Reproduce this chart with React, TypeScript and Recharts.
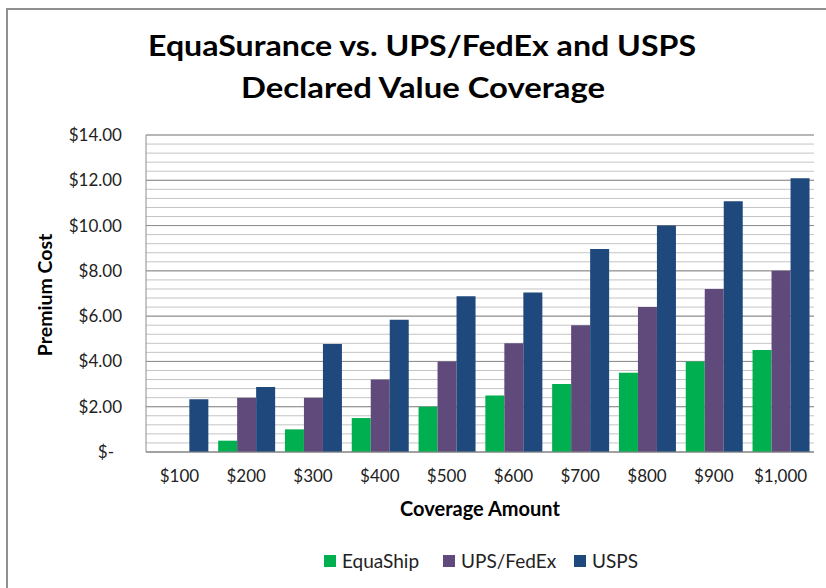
import React from "react";
import { BarChart, Bar, XAxis, YAxis, CartesianGrid } from "recharts";

const categories = ["$100", "$200", "$300", "$400", "$500", "$600", "$700", "$800", "$900", "$1,000"];
const equaShip = [0, 0.5, 1.0, 1.5, 2.0, 2.5, 3.0, 3.5, 4.0, 4.5];
const upsFedEx = [0, 2.4, 2.4, 3.2, 4.0, 4.8, 5.6, 6.4, 7.2, 8.0];
const usps = [2.33, 2.87, 4.77, 5.84, 6.88, 7.04, 8.97, 10.0, 11.07, 12.09];
const yTicks = [0, 2, 4, 6, 8, 10, 12, 14];
const minorStep = 0.4;
const minorTicks = Array.from({ length: 36 }, (_, i) => Math.round(i * minorStep * 10) / 10);

const series = [
  { key: "EquaShip", values: equaShip, color: "#00B050" },
  { key: "UPS/FedEx", values: upsFedEx, color: "#604A7B" },
  { key: "USPS", values: usps, color: "#1F497D" },
];

const data = categories.map((c, i) => {
  const row: any = { cat: c };
  series.forEach((s) => (row[s.key] = s.values[i]));
  return row;
});

const FONT = "Lato, 'Open Sans', sans-serif";

const fmt = (v: number) => (v === 0 ? "$-" : "$" + v.toFixed(2));

const YTick = (props: any) => {
  const { x, y, payload } = props;
  const v = payload.value;
  return (
    <text x={v === 0 ? x - 8 : x} y={y} dy="0.355em" textAnchor="end" fill="#222" fontSize={17} fontFamily={FONT}>
      {fmt(v)}
    </text>
  );
};

const legendX = [324, 443, 574];

export default function App() {
  return (
    <div style={{ position: "absolute", left: 0, top: 0, width: 826, height: 588, background: "#fff", overflow: "hidden" }}>
      <div style={{ position: "absolute", left: 6, top: 8, width: 900, height: 700, border: "2px solid #8f8f8f", boxSizing: "border-box" }} />
      <div style={{ position: "absolute", left: 0, top: 0 }}>
        <BarChart
          width={826}
          height={588}
          data={data}
          margin={{ top: 135, right: 12, bottom: 0, left: 0 }}
          barCategoryGap="8%"
          barGap={0}
        >
          <CartesianGrid horizontalValues={minorTicks} vertical={false} stroke="#c4c4c4" strokeWidth={1} />
          <CartesianGrid horizontalValues={yTicks} vertical={false} stroke="#8c8c8c" strokeWidth={1} />
          <XAxis
            dataKey="cat"
            height={136}
            tickSize={0}
            tickMargin={18}
            axisLine={{ stroke: "#8c8c8c" }}
            tickLine={false}
            tick={{ fill: "#222", fontSize: 17, fontFamily: FONT }}
            interval={0}
          />
          <YAxis
            width={146}
            domain={[0, 14]}
            ticks={yTicks}
            tickSize={0}
            tickMargin={24}
            axisLine={{ stroke: "#8c8c8c" }}
            tickLine={false}
            tick={<YTick />}
            interval={0}
          />
          {series.map((s) => (
            <Bar key={s.key} dataKey={s.key} fill={s.color} isAnimationActive={false} />
          ))}
        </BarChart>
      </div>
      <svg width={826} height={588} style={{ position: "absolute", left: 0, top: 0, pointerEvents: "none" }}>
        <text x={422} y={56} textAnchor="middle" fontFamily={FONT} fontWeight="bold" fontSize={29} fill="#000" textLength={548} lengthAdjust="spacingAndGlyphs">
          EquaSurance vs. UPS/FedEx and USPS
        </text>
        <text x={423} y={98} textAnchor="middle" fontFamily={FONT} fontWeight="bold" fontSize={29} fill="#000" textLength={364} lengthAdjust="spacingAndGlyphs">
          Declared Value Coverage
        </text>
        <text x={480} y={516} textAnchor="middle" fontFamily={FONT} fontWeight="bold" fontSize={20} fill="#000">
          Coverage Amount
        </text>
        <text x={0} y={0} transform="translate(52,295) rotate(-90)" textAnchor="middle" fontFamily={FONT} fontWeight="bold" fontSize={19.5} fill="#000">
          Premium Cost
        </text>
        {series.map((s, i) => (
          <g key={s.key}>
            <rect x={legendX[i]} y={555} width={12} height={12} fill={s.color} />
            <text x={legendX[i] + 18} y={568} fontFamily={FONT} fontSize={19} fill="#222">
              {s.key}
            </text>
          </g>
        ))}
      </svg>
    </div>
  );
}
